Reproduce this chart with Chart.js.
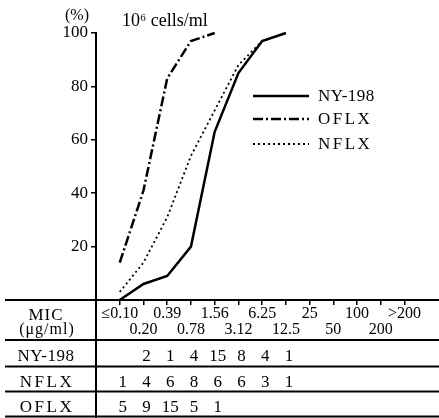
<!DOCTYPE html>
<html>
<head>
<meta charset="utf-8">
<script src="https://cdn.jsdelivr.net/npm/chart.js@4"></script>
<style>
  body { margin: 0; background: #fff; }
</style>
</head>
<body>
<canvas id="mic-chart" width="439" height="418"></canvas>
<script>
const micLabels = ['≤0.10', '0.20', '0.39', '0.78', '1.56', '3.12', '6.25', '12.5', '25', '50', '100', '200', '>200'];

// cumulative %
const nyPct = [0, 6, 9, 20, 63, 85, 97, 100];
const oflxPct = [14, 41, 83, 97, 100];
const nflxPct = [3, 14, 31, 54, 71, 88, 97, 100];

// number of strains per MIC (table)
const nyCounts = [null, 2, 1, 4, 15, 8, 4, 1];
const nflxCounts = [1, 4, 6, 8, 6, 6, 3, 1];
const oflxCounts = [5, 9, 15, 5, 1];

const serif = '"Liberation Serif", "DejaVu Serif", serif';
const ink = '#000';

const toPoints = (arr) => arr.map((v, i) => ({ x: i, y: v }));

// table + titles + legend drawn around the plot
const tablePlugin = {
    id: 'table',
    afterDraw(chart) {
        const ctx = chart.ctx;
        const xs = chart.scales.x;
        const left = chart.chartArea.left;
        ctx.save();
        ctx.strokeStyle = ink;
        ctx.fillStyle = ink;

        // horizontal rules
        ctx.lineWidth = 1.8;
        [300, 340, 366.5, 391.5, 416.5].forEach((y) => {
            ctx.beginPath();
            ctx.moveTo(5, y);
            ctx.lineTo(439, y);
            ctx.stroke();
        });
        // vertical rule
        ctx.lineWidth = 2;
        ctx.beginPath();
        ctx.moveTo(left, 299);
        ctx.lineTo(left, 418);
        ctx.stroke();

        // row headers
        ctx.textAlign = 'center';
        ctx.textBaseline = 'alphabetic';
        ctx.font = '17px ' + serif;
        ctx.letterSpacing = '1px';
        ctx.fillText('MIC', 46, 320);
        ctx.font = '16px ' + serif;
        ctx.fillText('(μg/ml)', 47, 334);
        ctx.font = '17px ' + serif;
        ctx.letterSpacing = '0.5px';
        ctx.fillText('NY-198', 46, 361);
        ctx.letterSpacing = '2.5px';
        ctx.fillText('NFLX', 47, 387);
        ctx.fillText('OFLX', 47, 412);
        ctx.letterSpacing = '0px';

        // counts
        ctx.font = '17px ' + serif;
        const rows = [[nyCounts, 361], [nflxCounts, 387], [oflxCounts, 412]];
        rows.forEach(([counts, y]) => {
            counts.forEach((c, i) => {
                if (c == null) return;
                ctx.fillText(String(c), xs.getPixelForValue(i) + 3, y);
            });
        });

        // titles
        ctx.textAlign = 'left';
        ctx.font = '16px ' + serif;
        ctx.fillText('(%)', 65, 20);
        ctx.font = '18px ' + serif;
        ctx.fillText('10⁶ cells/ml', 122, 26);

        // legend
        const legendY = [96, 119, 144];
        chart.data.datasets.forEach((ds, i) => {
            const y = legendY[i];
            ctx.save();
            ctx.lineWidth = ds.borderWidth;
            ctx.setLineDash(ds.borderDash || []);
            ctx.beginPath();
            ctx.moveTo(253, y);
            ctx.lineTo(309, y);
            ctx.stroke();
            ctx.restore();
            ctx.textBaseline = 'middle';
            ctx.font = '17px ' + serif;
            ctx.letterSpacing = i === 0 ? '0.5px' : '2.5px';
            ctx.fillText(ds.label, 318, y + 1);
        });
        ctx.restore();
    }
};

const ctx = document.getElementById('mic-chart').getContext('2d');
const micChart = new Chart(ctx, {
    type: 'line',
    data: {
        datasets: [
            {
                label: 'NY-198',
                data: toPoints(nyPct),
                borderColor: ink,
                borderWidth: 2.5,
                borderDash: [],
            },
            {
                label: 'OFLX',
                data: toPoints(oflxPct),
                borderColor: ink,
                borderWidth: 2.5,
                borderDash: [10, 3, 2, 3],
            },
            {
                label: 'NFLX',
                data: toPoints(nflxPct),
                borderColor: ink,
                borderWidth: 1.8,
                borderDash: [2, 3],
            },
        ]
    },
    options: {
        responsive: false,
        animation: false,
        layout: { padding: { top: 33, right: 0, left: 0, bottom: 0 } },
        elements: {
            point: { radius: 0 },
            line: { tension: 0, fill: false }
        },
        datasets: { line: { clip: false } },
        plugins: {
            legend: { display: false },
            tooltip: { enabled: false }
        },
        scales: {
            x: {
                type: 'linear',
                min: -1,
                max: 13.45,
                afterFit: (scale) => { scale.height = 118; },
                afterBuildTicks: (scale) => {
                    scale.ticks = micLabels.map((_, i) => ({ value: i }));
                },
                border: { display: false },
                grid: {
                    drawOnChartArea: false,
                    drawTicks: true,
                    tickLength: 5,
                    color: ink,
                    lineWidth: 1.5
                },
                ticks: {
                    autoSkip: false,
                    maxRotation: 0,
                    padding: 0,
                    color: ink,
                    font: { family: serif, size: 16, lineHeight: 1.05 },
                    callback: (value) => {
                        const lbl = micLabels[value];
                        return value % 2 === 0 ? [lbl, ''] : ['', lbl];
                    }
                }
            },
            y: {
                min: 0,
                max: 100,
                afterFit: (scale) => { scale.width = 96; },
                border: { display: true, color: ink, width: 2 },
                grid: {
                    drawOnChartArea: false,
                    drawTicks: true,
                    tickLength: 5,
                    color: ink,
                    lineWidth: 1.5
                },
                ticks: {
                    stepSize: 20,
                    padding: 3,
                    color: ink,
                    font: { family: serif, size: 17 },
                    callback: (value) => value === 0 ? '' : value
                }
            }
        }
    },
    plugins: [tablePlugin]
});
</script>
</body>
</html>
